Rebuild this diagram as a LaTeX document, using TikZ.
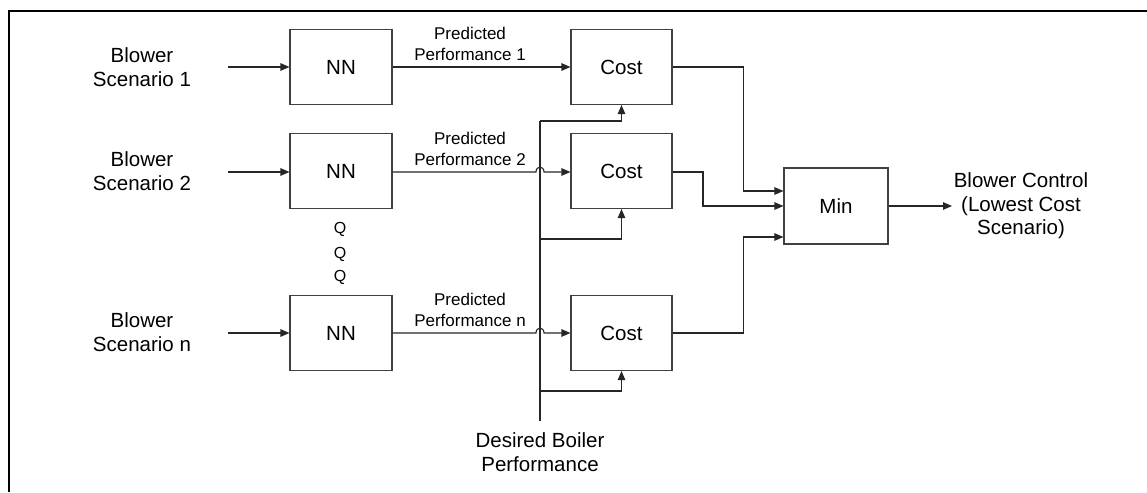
\documentclass[tikz,border=0pt]{standalone}
\usepackage{fontspec}
\setmainfont{Liberation Sans}
\usetikzlibrary{arrows.meta}
\begin{document}
\begin{tikzpicture}[x=1pt,y=-1pt,
  blk/.style={draw=black!75, line width=1.1pt, minimum width=102pt, minimum height=75pt, inner sep=0pt, font=\fontsize{20.5}{23}\selectfont},
  lbl/.style={align=center, font=\fontsize{20.5}{23.5}\selectfont, inner sep=0pt},
  small/.style={align=center, font=\fontsize{17}{21}\selectfont, inner sep=0pt},
  dotq/.style={font=\fontsize{16}{16}\selectfont, inner sep=0pt},
  wire/.style={draw=black!85, line width=1.1pt},
  conn/.style={wire, -{Triangle[length=9pt,width=7.5pt]}},
]
\useasboundingbox (0,0) rectangle (1147,492);
\draw[line width=2pt] (9,492) -- (9,11) -- (1147,11);

% labels
\node[lbl] (bs1) at (142,67) {Blower\\Scenario 1};
\node[lbl] (bs2) at (142,171) {Blower\\Scenario 2};
\node[lbl] (bsn) at (142,332) {Blower\\Scenario n};

% NN boxes
\node[blk] (nn1) at (341,67) {NN};
\node[blk] (nn2) at (341,171) {NN};
\node[blk] (nnn) at (341,333) {NN};

\node[dotq] (q1) at (340,229) {Q};
\node[dotq] (q2) at (340,254) {Q};
\node[dotq] (q3) at (340,277) {Q};

% cost boxes
\node[blk, minimum width=101pt] (c1) at (621.5,67) {Cost};
\node[blk, minimum width=101pt] (c2) at (621.5,171) {Cost};
\node[blk, minimum width=101pt] (cn) at (621.5,333) {Cost};

% min box
\node[blk, minimum width=104pt, minimum height=76pt] (mn) at (836,206) {Min};

% predicted labels
\node[small] (p1) at (470,44) {Predicted\\Performance 1};
\node[small] (p2) at (470,149) {Predicted\\Performance 2};
\node[small] (pn) at (470,310) {Predicted\\Performance n};

\node[lbl] (ctrl) at (1021,206) {Blower Control\\(Lowest Cost\\Scenario)};
\node[lbl] (des) at (540,452) {Desired Boiler\\Performance};

% input coordinates
\coordinate (i1) at (228,67);
\coordinate (i2) at (228,172);
\coordinate (in) at (228,333);
\draw[conn] (i1) -- (nn1.west);
\draw[conn] (i2) -- (nn2.west |- i2);
\draw[conn] (in) -- (nnn.west);

% NN -> Cost
\draw[conn] (nn1.east) -- (c1.west);
\draw[conn] (nn2.east |- i2) -- (536,172) .. controls (536,165.5) and (544,165.5) .. (544,172) -- (c2.west |- i2);
\draw[conn] (nnn.east) -- (536,333) .. controls (536,326.5) and (544,326.5) .. (544,333) -- (cn.west);

% desired performance
\coordinate (d0) at (540,421);
\draw[wire, line width=1.7pt] (d0) -- (540,121);
\draw[conn] (540,121) -| (c1.south);
\draw[conn] (540,239) -| (c2.south);
\draw[conn] (540,391) -| (cn.south);

% Cost -> Min
\draw[conn] (c1.east) -- ++(71,0) |- ([yshift=15pt]mn.west);
\draw[conn] (c2.east |- i2) -- (703,172) |- (mn.west);
\draw[conn] (cn.east) -- ++(71,0) |- ([yshift=-31pt]mn.west);

% output
\coordinate (mo) at (952,206);
\draw[conn] (mn.east) -- (mo);
\end{tikzpicture}
\end{document}
